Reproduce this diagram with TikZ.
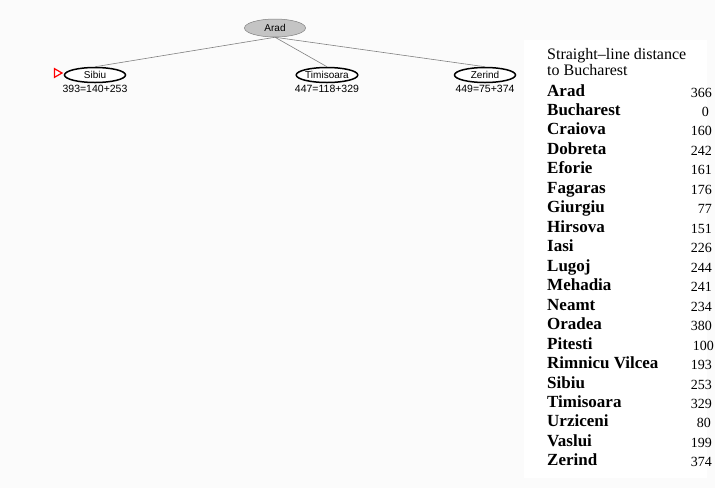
\documentclass[tikz,border=0pt]{standalone}
\usepackage{fontspec}
\setmainfont{Liberation Serif}
\newfontfamily\treefont{Liberation Sans}
\usetikzlibrary{shapes, positioning}
\definecolor{pagegray}{RGB}{251,251,251}
\definecolor{nodegray}{RGB}{196,196,196}
\tikzstyle{city} = [ellipse, draw=black, line width=1.5pt, fill=white, inner sep=0,
                    minimum width=61pt, minimum height=15pt, font=\treefont\fontsize{10}{12}\selectfont]
\tikzstyle{start} = [city, draw=gray, line width=0.5pt, fill=nodegray, minimum height=18pt]
\tikzstyle{fvalue} = [inner sep=1pt, font=\treefont\fontsize{10.5}{12}\selectfont]
\tikzstyle{treeline} = [draw=gray, line width=0.6pt]
\tikzstyle{nextmark} = [regular polygon, regular polygon sides=3, shape border rotate=270, inner sep=0,
                        draw=red, fill=white, line width=1.2pt, minimum size=10pt]

\begin{document}
\begin{tikzpicture}[x=1pt, y=-1pt]
	\useasboundingbox (0,0) rectangle (715,488);
	\fill [pagegray] (0,0) rectangle (715,488);
	\fill [white] (524,40) rectangle (707,478);

	% the root
	\node (Arad) [start] at (275,28) {Arad};

	% the children
	\node (Sibiu) [city] at (95,75) {Sibiu};
	\draw [treeline] (Arad.south) -- (Sibiu.north);
	\node (SibiuF) [fvalue, below=1pt of Sibiu] {393=140+253};
	\node (Next) [nextmark] at (57,73) {};

	\node (Timisoara) [city] at (327,75) {Timisoara};
	\draw [treeline] (Arad.south) -- (Timisoara.north);
	\node (TimisoaraF) [fvalue, below=1pt of Timisoara] {447=118+329};

	\node (Zerind) [city] at (485,75) {Zerind};
	\draw [treeline] (Arad.south) -- (Zerind.north);
	\node (ZerindF) [fvalue, below=1pt of Zerind] {449=75+374};

	% straight-line distances
	\node (Title) [anchor=base west, inner sep=0, font=\fontsize{16}{16}\selectfont] at (547,59) {Straight–line distance};
	\node (SubTitle) [anchor=base west, inner sep=0, font=\fontsize{16}{16}\selectfont] at (547,75) {to Bucharest};
	\foreach \name/\dist/\shift [count=\i from 0] in {Arad/366/0, Bucharest/0/-3, Craiova/160/0, Dobreta/242/0,
			Eforie/161/0, Fagaras/176/0, Giurgiu/77/0, Hirsova/151/0, Iasi/226/0, Lugoj/244/0,
			Mehadia/241/0, Neamt/234/0, Oradea/380/0, Pitesti/100/2, Rimnicu Vilcea/193/0,
			Sibiu/253/0, Timisoara/329/0, Urziceni/80/-1, Vaslui/199/0, Zerind/374/0}
	{
		\node (Name\i) [anchor=base west, inner sep=0, font=\fontsize{17}{19}\bfseries] at (547,96+19.47*\i) {\name};
		\node (Dist\i) [anchor=base east, inner sep=0, font=\fontsize{14}{16}\selectfont] at (712+\shift,97+19.47*\i) {\dist};
	}
\end{tikzpicture}
\end{document}
